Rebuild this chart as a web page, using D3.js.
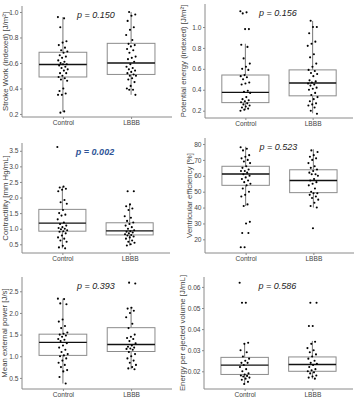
<!DOCTYPE html>
<html>
<head>
<meta charset="utf-8">
<script src="https://cdn.jsdelivr.net/npm/d3@7"></script>
<style>
  html, body { margin: 0; padding: 0; background: #fff; }
  svg { display: block; font-family: "Liberation Sans", Arial, sans-serif; }
</style>
</head>
<body>
<div id="chart"></div>
<script>
// --- DATA ---
const groups = ["Control", "LBBB"];

const titles = [
  "Stroke Work (indexed) [J/m\u00b2]",
  "Potential energy (indexed) [J/m\u00b2]",
  "Contractility [mm Hg/mL]",
  "Ventricular efficiency [%]",
  "Mean external power [J/s]",
  "Energy per ejected volume [J/mL]"
];
const pValues = ["0.150", "0.156", "0.002", "0.523", "0.393", "0.586"];
const significant = [false, false, true, false, false, false];

const yTicks = [
  [0.2, 0.4, 0.6, 0.8, 1.0],
  [0.2, 0.4, 0.6, 0.8, 1.0],
  [0.5, 1.0, 1.5, 2.0, 2.5, 3.0, 3.5],
  [20, 30, 40, 50, 60, 70, 80],
  [0.5, 1.0, 1.5, 2.0, 2.5],
  [0.02, 0.03, 0.04, 0.05, 0.06]
];
const yFormats = [".1f", ".1f", ".1f", "d", ".1f", ".2f"];
const yDomains = [
  [0.176, 1.047],
  [0.130, 1.220],
  [0.22, 3.75],
  [11.4, 83.8],
  [0.244, 2.83],
  [0.0116, 0.0647]
];

// box stats: [lower whisker, q1, median, q3, upper whisker]
const boxControl = [
  [0.215, 0.49, 0.588, 0.684, 0.96],
  [0.207, 0.277, 0.375, 0.541, 0.84],
  [0.37, 0.92, 1.18, 1.62, 2.35],
  [41, 54, 61.1, 66, 78.3],
  [0.37, 1.02, 1.32, 1.51, 2.33],
  [0.0137, 0.0185, 0.0229, 0.0266, 0.0334]
];
const boxLBBB = [
  [0.35, 0.51, 0.60, 0.754, 1.0],
  [0.175, 0.342, 0.464, 0.59, 1.058],
  [0.46, 0.80, 0.93, 1.19, 1.79],
  [40, 49.4, 57, 63.8, 76.7],
  [0.70, 1.11, 1.27, 1.66, 2.14],
  [0.0165, 0.020, 0.0232, 0.0268, 0.0344]
];

const swControl = [0.96, 0.95, 0.88, 0.77, 0.76, 0.74, 0.72, 0.70, 0.69, 0.68, 0.66, 0.65, 0.64, 0.62, 0.61, 0.60, 0.59, 0.59, 0.58, 0.57, 0.56, 0.55, 0.54, 0.52, 0.52, 0.50, 0.49, 0.48, 0.47, 0.46, 0.40, 0.38, 0.36, 0.35, 0.35, 0.22, 0.21];
const swLBBB = [1.00, 0.98, 0.97, 0.93, 0.88, 0.86, 0.82, 0.78, 0.75, 0.74, 0.73, 0.71, 0.70, 0.68, 0.65, 0.64, 0.63, 0.61, 0.59, 0.57, 0.56, 0.55, 0.54, 0.53, 0.52, 0.51, 0.50, 0.50, 0.48, 0.47, 0.45, 0.42, 0.40, 0.39, 0.39, 0.35];

const peControl = [1.15, 1.14, 1.13, 0.98, 0.98, 0.83, 0.81, 0.70, 0.65, 0.62, 0.60, 0.59, 0.54, 0.53, 0.52, 0.50, 0.47, 0.46, 0.45, 0.39, 0.38, 0.37, 0.33, 0.31, 0.30, 0.29, 0.28, 0.27, 0.26, 0.25, 0.24, 0.23, 0.22, 0.21, 0.20];
const peLBBB = [1.06, 1.00, 1.00, 0.94, 0.86, 0.84, 0.82, 0.74, 0.71, 0.65, 0.62, 0.59, 0.58, 0.56, 0.55, 0.53, 0.49, 0.48, 0.47, 0.46, 0.45, 0.44, 0.42, 0.41, 0.40, 0.37, 0.35, 0.33, 0.31, 0.29, 0.27, 0.26, 0.25, 0.23, 0.20, 0.17];

const ctControl = [3.62, 2.35, 2.32, 2.28, 2.25, 2.20, 1.92, 1.85, 1.80, 1.60, 1.50, 1.45, 1.42, 1.30, 1.20, 1.15, 1.10, 1.05, 1.02, 1.00, 0.98, 0.95, 0.92, 0.90, 0.85, 0.78, 0.72, 0.68, 0.62, 0.58, 0.45, 0.40, 0.37];
const ctLBBB = [2.20, 2.20, 1.78, 1.72, 1.65, 1.60, 1.40, 1.35, 1.25, 1.20, 1.15, 1.10, 1.05, 1.00, 0.95, 0.92, 0.90, 0.88, 0.85, 0.82, 0.80, 0.78, 0.75, 0.72, 0.68, 0.62, 0.58, 0.55, 0.50, 0.46];

const veControl = [78, 77, 76, 73, 72, 71, 70, 69, 68, 66, 65, 64, 63, 63, 62, 61, 60, 59, 58, 57, 56, 55, 54, 52, 50, 48, 47, 42, 41, 31, 30, 24, 24, 15, 15];
const veLBBB = [76, 75, 73, 72, 71, 70, 68, 66, 65, 64, 63, 62, 61, 61, 60, 58, 57, 56, 55, 54, 52, 50, 49, 49, 48, 47, 46, 45, 43, 41, 40, 27];

const mpControl = [2.33, 2.32, 2.22, 2.20, 1.85, 1.80, 1.70, 1.65, 1.55, 1.52, 1.50, 1.48, 1.45, 1.40, 1.38, 1.35, 1.30, 1.25, 1.20, 1.15, 1.10, 1.05, 1.02, 1.00, 0.95, 0.90, 0.85, 0.80, 0.75, 0.68, 0.65, 0.52, 0.37];
const mpLBBB = [2.70, 2.68, 2.12, 2.10, 2.05, 2.00, 1.90, 1.75, 1.65, 1.50, 1.45, 1.42, 1.40, 1.35, 1.30, 1.25, 1.22, 1.20, 1.18, 1.17, 1.15, 1.10, 1.05, 1.00, 0.95, 0.90, 0.85, 0.80, 0.75, 0.72, 0.70];

const evControl = [0.062, 0.0525, 0.0525, 0.0335, 0.033, 0.030, 0.029, 0.027, 0.026, 0.025, 0.024, 0.024, 0.023, 0.022, 0.021, 0.020, 0.019, 0.0185, 0.018, 0.0178, 0.0175, 0.017, 0.0165, 0.016, 0.015, 0.014];
const evLBBB = [0.0525, 0.0525, 0.0415, 0.0415, 0.034, 0.033, 0.031, 0.030, 0.029, 0.028, 0.027, 0.026, 0.025, 0.024, 0.0235, 0.023, 0.022, 0.021, 0.0205, 0.020, 0.0195, 0.019, 0.018, 0.0175, 0.017, 0.0165];

const pointsControl = [swControl, peControl, ctControl, veControl, mpControl, evControl];
const pointsLBBB = [swLBBB, peLBBB, ctLBBB, veLBBB, mpLBBB, evLBBB];

// --- LAYOUT (pixel frames of each panel) ---
const frames = [
  { left: 22,  right: 172, top: 6,   bottom: 117, titleX: 5 },
  { left: 205, right: 353, top: 4,   bottom: 118, titleX: 183 },
  { left: 22,  right: 170, top: 143, bottom: 253, titleX: 5 },
  { left: 205, right: 354, top: 138, bottom: 253, titleX: 189 },
  { left: 22,  right: 172, top: 277, bottom: 389, titleX: 4 },
  { left: 204, right: 353, top: 277, bottom: 389, titleX: 182 }
];

const W = 357, H = 400;
const svg = d3.select("#chart").append("svg").attr("width", W).attr("height", H);

const axisColor = "#8a8a8a";
const textColor = "#444";

frames.forEach((f, k) => {
  const g = svg.append("g");
  const x = d3.scalePoint().domain(groups).range([f.left, f.right]).padding(0.6);
  const y = d3.scaleLinear().domain(yDomains[k]).range([f.bottom, f.top]);
  const bw = x.step() * 0.7;

  // axes
  const yAxis = g.append("g").attr("transform", `translate(${f.left},0)`)
    .call(d3.axisLeft(y).tickValues(yTicks[k]).tickFormat(d3.format(yFormats[k])).tickSize(2).tickPadding(1.5));
  const xAxis = g.append("g").attr("transform", `translate(0,${f.bottom})`)
    .call(d3.axisBottom(x).tickSize(2).tickPadding(1.5));
  [yAxis, xAxis].forEach(a => {
    a.select(".domain").remove();
    a.selectAll(".tick line").attr("stroke", axisColor);
    a.selectAll(".tick text").attr("fill", textColor).style("font-size", "6.6px");
  });
  g.append("line").attr("x1", f.left).attr("x2", f.left).attr("y1", f.top).attr("y2", f.bottom)
    .attr("stroke", axisColor).attr("stroke-width", 1);
  g.append("line").attr("x1", f.left).attr("x2", f.right).attr("y1", f.bottom).attr("y2", f.bottom)
    .attr("stroke", axisColor).attr("stroke-width", 1);

  // y title
  g.append("text")
    .attr("transform", `translate(${f.titleX},${(f.top + f.bottom) / 2}) rotate(-90)`)
    .attr("text-anchor", "middle").attr("dominant-baseline", "central")
    .attr("fill", textColor).style("font-size", "7.8px")
    .text(titles[k]);

  // boxes
  const stats = [boxControl[k], boxLBBB[k]];
  groups.forEach((grp, i) => {
    const s = stats[i];
    const cx = x(grp);
    g.append("line").attr("x1", cx).attr("x2", cx).attr("y1", y(s[0])).attr("y2", y(s[4]))
      .attr("stroke", "#555").attr("stroke-width", 0.8);
    g.append("rect").attr("x", cx - bw / 2).attr("width", bw)
      .attr("y", y(s[3])).attr("height", y(s[1]) - y(s[3]))
      .attr("fill", "#fff").attr("stroke", "#8c8c8c").attr("stroke-width", 1);
    g.append("line").attr("x1", cx - bw / 2).attr("x2", cx + bw / 2)
      .attr("y1", y(s[2])).attr("y2", y(s[2]))
      .attr("stroke", "#111").attr("stroke-width", 1.4);
  });

  // jittered points
  const pts = [pointsControl[k], pointsLBBB[k]];
  groups.forEach((grp, i) => {
    g.append("g").selectAll("circle").data(pts[i]).join("circle")
      .attr("cx", (d, j) => x(grp) + (((j * 0.618034 + i * 0.3) % 1) - 0.5) * 10)
      .attr("cy", d => y(d))
      .attr("r", 1.05)
      .attr("fill", "#000");
  });

  // p value
  const pt = g.append("text")
    .attr("x", (x(groups[0]) + x(groups[1])) / 2 - 1)
    .attr("y", f.top + 12)
    .attr("text-anchor", "middle")
    .style("font-size", "9px").style("font-style", "italic")
    .text(`p = ${pValues[k]}`);
  if (significant[k]) pt.attr("fill", "#2f5597").style("font-weight", "bold");
  else pt.attr("fill", "#222");
});
</script>
</body>
</html>
